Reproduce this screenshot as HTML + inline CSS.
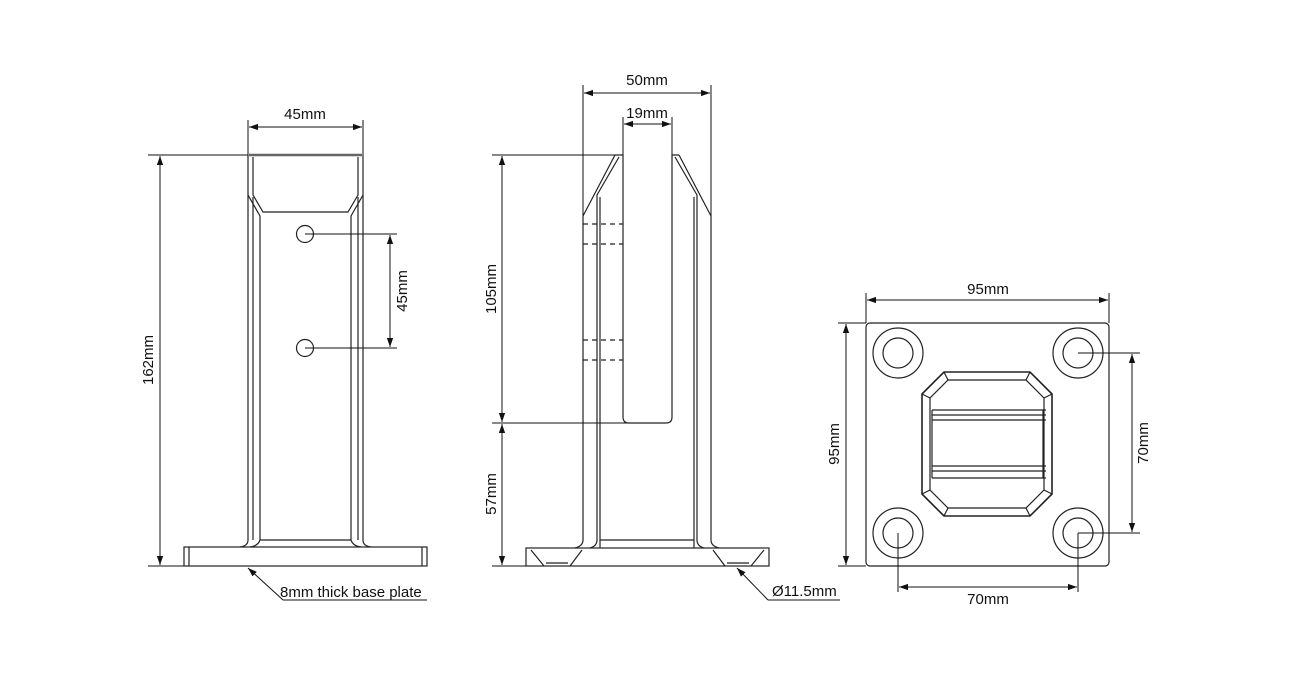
<!DOCTYPE html>
<html><head><meta charset="utf-8"><style>
html,body{margin:0;padding:0;background:#fff;}
svg{display:block;}
text{font-family:"Liberation Sans",sans-serif;font-size:15px;fill:#111;}
</style></head><body>
<svg width="1303" height="687" viewBox="0 0 1303 687" xmlns="http://www.w3.org/2000/svg">
<defs>
<marker id="a" viewBox="0 0 10 10" refX="10" refY="5" markerWidth="9" markerHeight="9" orient="auto-start-reverse" markerUnits="userSpaceOnUse"><path d="M0,1.5 L10,5 L0,8.5 z" fill="#111"/></marker>
</defs>
<g fill="none" stroke="#222" stroke-width="1.2">
<!-- LEFT VIEW -->
<line x1="249" y1="155" x2="362" y2="155" stroke-width="2.5" stroke="#666"/>
<path d="M248,155 V195 L260,216 V540 Q258,546 250,547"/>
<path d="M253,157 V195 L263,212 H348 L358,195 V157"/>
<path d="M363,155 V195 L351,216 V540 Q353,546 361,547"/>
<path d="M248,195 V540 Q248,546 240,547"/>
<path d="M363,195 V540 Q363,546 371,547"/>
<line x1="253" y1="197" x2="253" y2="540"/>
<line x1="358" y1="197" x2="358" y2="540"/>
<line x1="260" y1="540" x2="351" y2="540"/>
<rect x="184" y="547" width="243" height="19"/>
<line x1="189" y1="547" x2="189" y2="566"/>
<line x1="422" y1="547" x2="422" y2="566"/>
<circle cx="305" cy="234" r="8.5"/>
<circle cx="305" cy="348" r="8.5"/>
<g stroke="#111" stroke-width="1">
<line x1="248" y1="120" x2="248" y2="155"/>
<line x1="363" y1="120" x2="363" y2="155"/>
<line x1="249" y1="127" x2="362" y2="127" marker-start="url(#a)" marker-end="url(#a)"/>
<line x1="148" y1="155" x2="248" y2="155"/>
<line x1="148" y1="566" x2="184" y2="566"/>
<line x1="160" y1="156" x2="160" y2="565" marker-start="url(#a)" marker-end="url(#a)"/>
<line x1="305" y1="234" x2="397" y2="234"/>
<line x1="305" y1="348" x2="397" y2="348"/>
<line x1="390" y1="235" x2="390" y2="347" marker-start="url(#a)" marker-end="url(#a)"/>
<path d="M283,600 L248,568" marker-end="url(#a)"/>
<line x1="283" y1="600" x2="427" y2="600"/>
</g>
<!-- MIDDLE VIEW -->
<path d="M615,155 H623 V417 Q623,423 629,423 H666 Q672,423 672,417 V155 H679"/>
<path d="M615,155 L583,216 V540 Q583,546 575,548"/>
<path d="M619,157 L597,195 V540 Q597,546 590,548"/>
<line x1="600" y1="197" x2="600" y2="548"/>
<path d="M679,155 L711,216 V540 Q711,546 719,548"/>
<path d="M675,157 L697,195 V540 Q697,546 704,548"/>
<line x1="694" y1="197" x2="694" y2="548"/>
<line x1="600" y1="540" x2="694" y2="540"/>
<rect x="526" y="548" width="243" height="18"/>
<path d="M531,550 L544,566 M582,550 L570,566 M546,563 H568"/>
<path d="M764,550 L751,566 M713,550 L725,566 M727,563 H749"/>
<g stroke-dasharray="5,4">
<line x1="583" y1="224" x2="623" y2="224"/>
<line x1="583" y1="244" x2="623" y2="244"/>
<line x1="583" y1="340" x2="623" y2="340"/>
<line x1="583" y1="360" x2="623" y2="360"/>
</g>
<g stroke="#111" stroke-width="1">
<line x1="583" y1="85" x2="583" y2="216"/>
<line x1="711" y1="85" x2="711" y2="216"/>
<line x1="584" y1="93" x2="710" y2="93" marker-start="url(#a)" marker-end="url(#a)"/>
<line x1="623" y1="117" x2="623" y2="155"/>
<line x1="672" y1="117" x2="672" y2="155"/>
<line x1="624" y1="124" x2="671" y2="124" marker-start="url(#a)" marker-end="url(#a)"/>
<line x1="492" y1="155" x2="615" y2="155"/>
<line x1="492" y1="423" x2="629" y2="423"/>
<line x1="492" y1="566" x2="526" y2="566"/>
<line x1="502" y1="156" x2="502" y2="422" marker-start="url(#a)" marker-end="url(#a)"/>
<line x1="502" y1="424" x2="502" y2="565" marker-start="url(#a)" marker-end="url(#a)"/>
<path d="M768,600 L737,568" marker-end="url(#a)"/>
<line x1="768" y1="600" x2="840" y2="600"/>
</g>
<!-- RIGHT VIEW -->
<rect x="866" y="323" width="243" height="243" rx="4"/>
<circle cx="898" cy="353" r="25"/><circle cx="898" cy="353" r="15"/>
<circle cx="1078" cy="353" r="25"/><circle cx="1078" cy="353" r="15"/>
<circle cx="898" cy="533" r="25"/><circle cx="898" cy="533" r="15"/>
<circle cx="1078" cy="533" r="25"/><circle cx="1078" cy="533" r="15"/>
<path d="M944,372 H1030 L1052,394 V494 L1030,516 H944 L922,494 V394 Z" stroke-width="1.6"/>
<path d="M948,380 H1026 L1044,398 V490 L1026,508 H948 L930,490 V398 Z"/>
<path d="M944,372 L948,380 M1030,372 L1026,380 M1052,394 L1044,398 M1052,494 L1044,490 M1030,516 L1026,508 M944,516 L948,508 M922,494 L930,490 M922,394 L930,398"/>
<line x1="932" y1="410" x2="1046" y2="410"/>
<line x1="932" y1="415" x2="1046" y2="415"/>
<line x1="932" y1="420" x2="1046" y2="420"/>
<line x1="932" y1="466" x2="1046" y2="466"/>
<line x1="932" y1="471" x2="1046" y2="471"/>
<line x1="932" y1="478" x2="1046" y2="478"/>
<line x1="932" y1="410" x2="932" y2="478"/>
<line x1="1043" y1="410" x2="1043" y2="478"/>
<g stroke="#111" stroke-width="1">
<line x1="866" y1="293" x2="866" y2="323"/>
<line x1="1109" y1="293" x2="1109" y2="323"/>
<line x1="867" y1="300" x2="1108" y2="300" marker-start="url(#a)" marker-end="url(#a)"/>
<line x1="838" y1="323" x2="866" y2="323"/>
<line x1="838" y1="566" x2="866" y2="566"/>
<line x1="846" y1="324" x2="846" y2="565" marker-start="url(#a)" marker-end="url(#a)"/>
<line x1="1078" y1="353" x2="1140" y2="353"/>
<line x1="1078" y1="533" x2="1140" y2="533"/>
<line x1="1132" y1="354" x2="1132" y2="532" marker-start="url(#a)" marker-end="url(#a)"/>
<line x1="898" y1="533" x2="898" y2="592"/>
<line x1="1078" y1="533" x2="1078" y2="592"/>
<line x1="899" y1="587" x2="1077" y2="587" marker-start="url(#a)" marker-end="url(#a)"/>
</g>
</g>
<text x="305" y="119" text-anchor="middle">45mm</text>
<text transform="translate(153,360) rotate(-90)" text-anchor="middle">162mm</text>
<text transform="translate(407,291) rotate(-90)" text-anchor="middle">45mm</text>
<text x="280" y="597">8mm thick base plate</text>
<text x="647" y="85" text-anchor="middle">50mm</text>
<text x="647" y="118" text-anchor="middle">19mm</text>
<text transform="translate(496,289) rotate(-90)" text-anchor="middle">105mm</text>
<text transform="translate(496,494) rotate(-90)" text-anchor="middle">57mm</text>
<text x="772" y="596">Ø11.5mm</text>
<text x="988" y="294" text-anchor="middle">95mm</text>
<text transform="translate(839,444) rotate(-90)" text-anchor="middle">95mm</text>
<text transform="translate(1148,443) rotate(-90)" text-anchor="middle">70mm</text>
<text x="988" y="604" text-anchor="middle">70mm</text>
</svg>
</body></html>
